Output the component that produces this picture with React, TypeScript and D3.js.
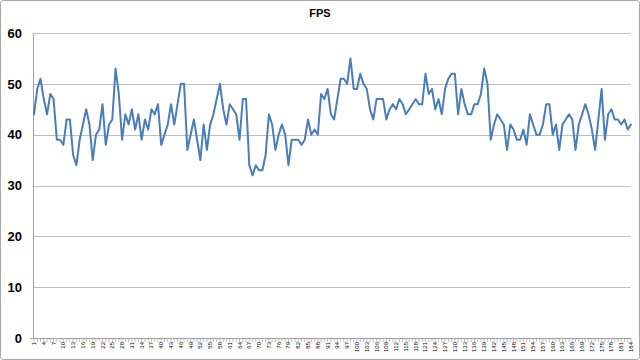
import React from 'react'
import * as d3 from 'd3'

// frames per second, one sample per category (1..184)
const fps = [
  44, 49, 51, 47, 44, 48, 47, 39, 39, 38, 43, 43, 36, 34, 39, 42, 45, 42, 35, 40,
  41, 46, 38, 42, 43, 53, 48, 39, 44, 42, 45, 41, 44, 39, 43, 41, 45, 44, 46, 38,
  40, 42, 46, 42, 46, 50, 50, 37, 40, 43, 39, 35, 42, 37, 42, 44, 47, 50, 45, 42,
  46, 45, 44, 39, 47, 47, 34, 32, 34, 33, 33, 36, 44, 42, 37, 40, 42, 40, 34, 39,
  39, 39, 38, 39, 43, 40, 41, 40, 48, 47, 49, 44, 43, 47, 51, 51, 50, 55, 49, 49,
  52, 50, 49, 45, 43, 47, 47, 47, 43, 45, 46, 45, 47, 46, 44, 45, 46, 47, 46, 46,
  52, 48, 49, 45, 47, 44, 49, 51, 52, 52, 44, 49, 46, 44, 44, 46, 46, 48, 53, 50,
  39, 42, 44, 43, 42, 37, 42, 41, 39, 39, 41, 38, 44, 42, 40, 40, 42, 46, 46, 40,
  42, 37, 42, 43, 44, 43, 37, 42, 44, 46, 44, 41, 37, 43, 49, 39, 44, 45, 43, 43,
  42, 43, 41, 42,
]
const categories = fps.map((_, i) => i + 1)
const yTicks = [0, 10, 20, 30, 40, 50, 60]
const title = 'FPS'

const W = 640
const H = 360
const margin = { top: 33, right: 9, bottom: 22, left: 34 }

export default function App() {
  const x = d3.scalePoint<number>()
    .domain(categories)
    .range([margin.left, W - margin.right])

  const y = d3.scaleLinear()
    .domain([0, 60])
    .range([H - margin.bottom, margin.top])

  const line = d3.line<number>()
    .x((d, i) => x(categories[i]) as number)
    .y(d => y(d))

  const y0 = y(0)
  const font = '"Liberation Sans", Arial, sans-serif'

  return (
    <div style={{ position: 'fixed', left: 0, top: 0 }}>
      <svg width={W} height={H} style={{ display: 'block', background: '#fff' }}>
        <rect x={0.5} y={0.5} width={W - 1} height={H - 1} rx={3}
          fill="#fff" stroke="#a6a6a6" />

        <text x={W / 2} y={17} textAnchor="middle" fontFamily={font}
          fontSize={11} fontWeight="bold" fill="#000">{title}</text>

        {/* gridlines */}
        {yTicks.filter(t => t > 0).map(t => (
          <line key={t} x1={margin.left} x2={W - margin.right}
            y1={Math.round(y(t)) + 0.5} y2={Math.round(y(t)) + 0.5}
            stroke="#bfbfbf" strokeWidth={1} />
        ))}

        {/* y tick labels */}
        {yTicks.map(t => (
          <text key={t} x={22} y={y(t)} dy="0.36em" textAnchor="end"
            fontFamily={font} fontSize={13} fontWeight="bold" fill="#000">{t}</text>
        ))}

        {/* axes */}
        <line x1={margin.left - 0.5} x2={margin.left - 0.5} y1={margin.top} y2={y0 + 1}
          stroke="#a0a0a0" />
        <line x1={margin.left - 4} x2={W - margin.right} y1={Math.round(y0) + 0.5} y2={Math.round(y0) + 0.5}
          stroke="#a0a0a0" />
        {categories.map(c => (
          <line key={c} x1={(x(c) as number)} x2={(x(c) as number)}
            y1={Math.round(y0)} y2={Math.round(y0) + 4} stroke="#a0a0a0" strokeWidth={0.7} />
        ))}

        {/* x tick labels, every third category */}
        {categories.filter((c, i) => i % 3 === 0).map(c => (
          <text key={c} transform={`translate(${(x(c) as number) + 2},${y0 + 4}) rotate(-90)`}
            textAnchor="end" fontFamily={font} fontSize={6} fill="#000">{c}</text>
        ))}

        <path d={line(fps) || ''} fill="none" stroke="#4a7ebb" strokeWidth={2}
          strokeLinejoin="round" strokeLinecap="round" />
      </svg>
    </div>
  )
}
